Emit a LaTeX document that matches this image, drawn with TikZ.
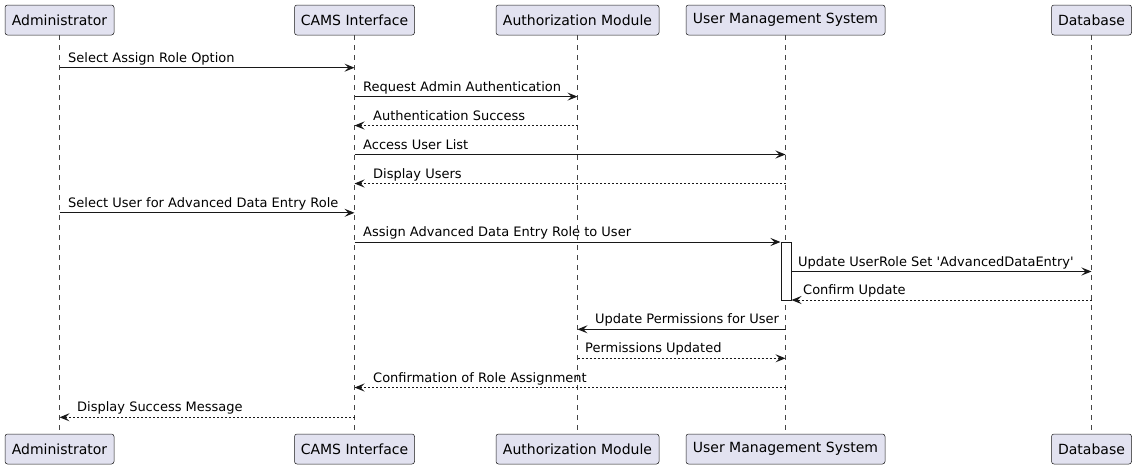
\documentclass[tikz,border=0pt]{standalone}
\usepackage{fontspec}
\setmainfont{DejaVu Sans}
\usetikzlibrary{arrows.meta}
\definecolor{boxfill}{HTML}{E2E2F0}
\definecolor{ink}{HTML}{181818}
\tikzset{
  part/.style={draw=ink, line width=0.5pt, fill=boxfill, rounded corners=2.5pt, inner sep=0pt, minimum height=30pt, font=\fontsize{14pt}{16pt}\selectfont, text=black},
  lifeline/.style={draw=ink!80, line width=0.6pt, dash pattern=on 5pt off 5pt},
  msg/.style={draw=ink, line width=1pt, -{Stealth[length=10pt, width=8pt, inset=4pt]}},
  ret/.style={msg, dash pattern=on 2pt off 2pt},
  lbl/.style={anchor=base west, inner sep=0pt, font=\fontsize{13pt}{15pt}\selectfont, text=black},
  actbox/.style={draw=ink, line width=1pt, fill=white, inner sep=0pt, minimum width=10pt, minimum height=58pt}
}
\begin{document}
\begin{tikzpicture}[x=1pt, y=-1pt]
\useasboundingbox (0,0) rectangle (1136,469);
% participants top
\node[part, minimum width=109pt] (adm)  at (59.5,20) {Administrator};
\node[part, minimum width=120pt] (cams) at (354.5,20) {CAMS Interface};
\node[part, minimum width=163pt] (auth) at (577.5,20) {Authorization Module};
\node[part, minimum width=199pt] (ums)  at (785.5,20) {User Management System};
\node[part, minimum width=80pt]  (db)   at (1091.5,20) {Database};
% participants bottom
\node[part, minimum width=109pt] (admB)  at (59.5,449) {Administrator};
\node[part, minimum width=120pt] (camsB) at (354.5,449) {CAMS Interface};
\node[part, minimum width=163pt] (authB) at (577.5,449) {Authorization Module};
\node[part, minimum width=199pt] (umsB)  at (785.5,449) {User Management System};
\node[part, minimum width=80pt]  (dbB)   at (1091.5,449) {Database};
% lifelines
\draw[lifeline] (adm.south) -- (admB.north);
\draw[lifeline] (cams.south) -- (camsB.north);
\draw[lifeline] (auth.south) -- (authB.north);
\draw[lifeline] (ums.south) -- (umsB.north);
\draw[lifeline] (db.south) -- (dbB.north);
% activation
\node[actbox] (act) at (786,271) {};
% messages
\draw[msg] (adm.south |- 0,67.7) -- (cams.south |- 0,67.7);
\node[lbl] (l1) at (68,62.2) {Select Assign Role Option};
\draw[msg] (cams.south |- 0,96.6) -- (auth.south |- 0,96.6);
\node[lbl] (l2) at (363,91.1) {Request Admin Authentication};
\draw[ret] (auth.south |- 0,125.5) -- (cams.south |- 0,125.5);
\node[lbl] (l3) at (373,120) {Authentication Success};
\draw[msg] (cams.south |- 0,154.5) -- (ums.south |- 0,154.5);
\node[lbl] (l4) at (363,149) {Access User List};
\draw[ret] (ums.south |- 0,183.5) -- (cams.south |- 0,183.5);
\node[lbl] (l5) at (373,178) {Display Users};
\draw[msg] (adm.south |- 0,212.8) -- (cams.south |- 0,212.8);
\node[lbl] (l6) at (68,207.3) {Select User for Advanced Data Entry Role};
\draw[msg] (cams.south |- 0,242) -- (act.west |- 0,242);
\node[lbl] (l7) at (363,236.5) {Assign Advanced Data Entry Role to User};
\draw[msg] (act.east |- 0,271.5) -- (db.south |- 0,271.5);
\node[lbl] (l8) at (798,266) {Update UserRole Set \textquotesingle AdvancedDataEntry\textquotesingle};
\draw[ret] (db.south |- 0,300) -- (act.east |- 0,300);
\node[lbl] (l9) at (803,294.5) {Confirm Update};
\draw[msg] (ums.south |- 0,329.3) -- (auth.south |- 0,329.3);
\node[lbl] (l10) at (595,323.8) {Update Permissions for User};
\draw[ret] (auth.south |- 0,358.3) -- (ums.south |- 0,358.3);
\node[lbl] (l11) at (585,352.8) {Permissions Updated};
\draw[ret] (ums.south |- 0,387.5) -- (cams.south |- 0,387.5);
\node[lbl] (l12) at (373,382) {Confirmation of Role Assignment};
\draw[ret] (cams.south |- 0,417.3) -- (adm.south |- 0,417.3);
\node[lbl] (l13) at (77,411.8) {Display Success Message};
\end{tikzpicture}
\end{document}
